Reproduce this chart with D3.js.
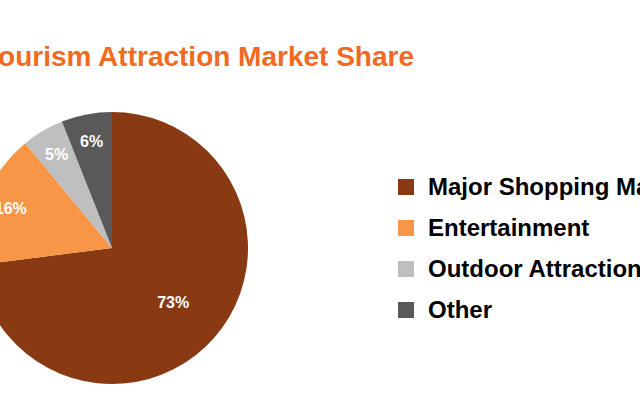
<!DOCTYPE html>
<html>
<head>
<meta charset="utf-8">
<script src="https://cdn.jsdelivr.net/npm/d3@7"></script>
<style>
  body { margin: 0; background: #fff; }
  svg { display: block; font-family: "Liberation Sans", Arial, sans-serif; }
</style>
</head>
<body>
<svg id="chart" width="640" height="414"></svg>
<script>
// chart data
var categories = ['Major Shopping Malls', 'Entertainment', 'Outdoor Attractions', 'Other'];
var shares = [73, 16, 5, 6];
var colors = ['#8a3a13', '#f79646', '#bfbfbf', '#595959'];

var svg = d3.select('#chart');

svg.append('text')
    .attr('x', -17).attr('y', 66)
    .attr('fill', '#f26a22')
    .attr('font-size', 28).attr('font-weight', 'bold')
    .text('Tourism Attraction Market Share');

var cx = 112, cy = 248, r = 136;
var pie = d3.pie().sort(null)(shares);
var arc = d3.arc().innerRadius(0).outerRadius(r);

var g = svg.append('g').attr('transform', 'translate(' + cx + ',' + cy + ')');
g.selectAll('path').data(pie).enter().append('path')
    .attr('d', arc)
    .attr('fill', function (d, i) { return colors[i]; });

// big slice label sits nearer the centre, small ones near the rim
g.selectAll('text').data(pie).enter().append('text')
    .attr('transform', function (d, i) {
        var rr = i === 0 ? r * 0.6 : r * 0.8;
        return 'translate(' + d3.arc().innerRadius(rr).outerRadius(rr).centroid(d) + ')';
    })
    .attr('text-anchor', 'middle').attr('dy', '0.35em')
    .attr('fill', '#fff').attr('font-size', 16).attr('font-weight', 'bold')
    .text(function (d) { return d.data + '%'; });

var legend = svg.append('g').attr('transform', 'translate(398,187)');
var items = legend.selectAll('g').data(categories).enter().append('g')
    .attr('transform', function (d, i) { return 'translate(0,' + i * 41 + ')'; });
items.append('rect')
    .attr('x', 0).attr('y', -8).attr('width', 16).attr('height', 16)
    .attr('fill', function (d, i) { return colors[i]; });
items.append('text')
    .attr('x', 30).attr('dy', '0.35em')
    .attr('font-size', 24).attr('font-weight', 'bold').attr('fill', '#000')
    .text(function (d) { return d; });
</script>
</body>
</html>
